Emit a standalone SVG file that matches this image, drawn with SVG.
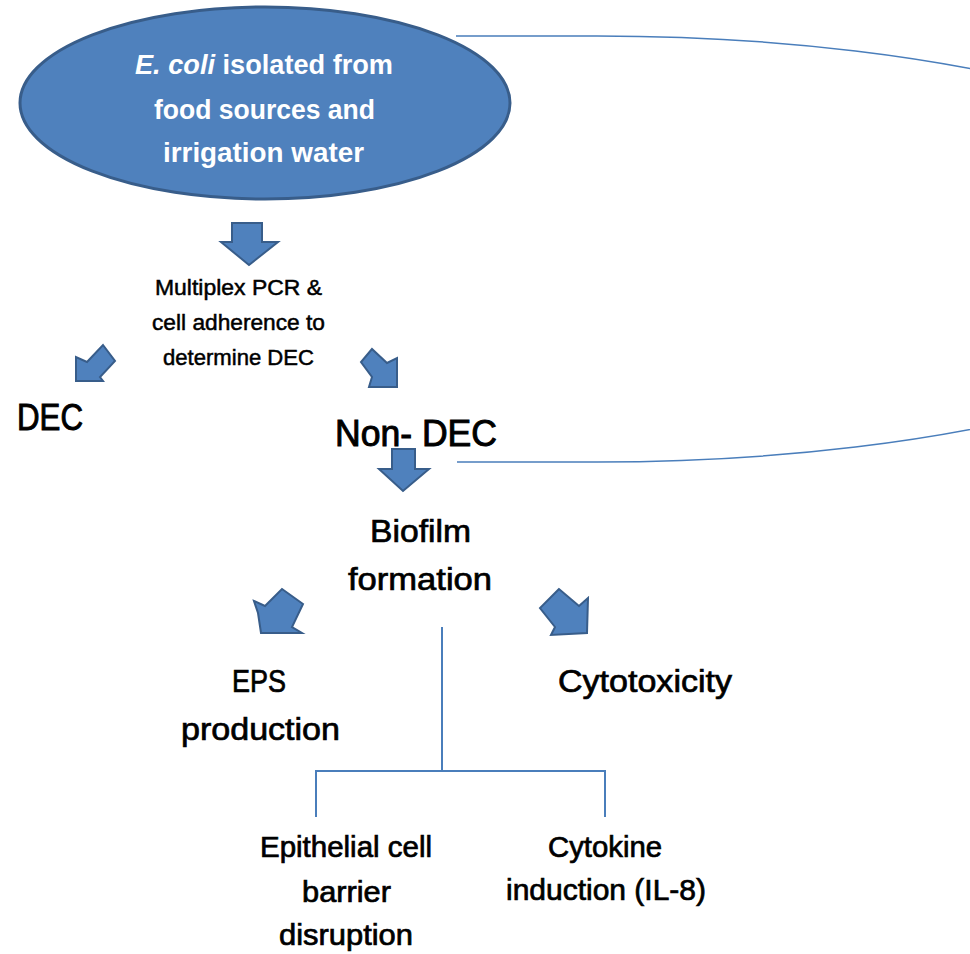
<svg xmlns="http://www.w3.org/2000/svg" width="970" height="954" viewBox="0 0 970 954">
<style>
.bg{fill:#ffffff}
.ell{fill:#4f81bd;stroke:#385d8a;stroke-width:3}
.arr{fill:#4f81bd;stroke:#385d8a;stroke-width:2;stroke-linejoin:miter}
.ln{fill:none;stroke:#4a7ebb;stroke-width:2}
.loop{fill:none;stroke:#4a7ebb;stroke-width:1.5}
.w{font-family:"Liberation Sans",Arial,sans-serif;font-weight:bold;fill:#ffffff;font-size:28px}
.t{font-family:"Liberation Sans",Arial,sans-serif;fill:#000000;stroke:#000000;stroke-width:0.7}
.s1{font-size:22.5px;stroke-width:0.5}
.s2{font-size:37px;stroke-width:1}
.s3{font-size:31.5px}
.s4{font-size:29px}
</style>
<rect class="bg" x="0" y="0" width="970" height="954"/>
<g id="connectors">
<path class="loop" d="M456,36 L597,36 A702,213 0 0 1 597,462 L457,462"/>
<polygon class="arr" points="232,223 262,223 262,242 278,242 249,265 221,242 232,242"/>
<polygon class="arr" points="103,345 115,361 100,377 103,381 76,381 76,357 87,362"/>
<polygon class="arr" points="372,349 361,362 372,377 369,387 397,387 397,358 387,363"/>
<polygon class="arr" points="392,449 415,449 415,469 429,469 403,491 379,469 392,469"/>
<polygon class="arr" points="254,601 265,606 282,589 303,604 292,627 302,633 261,633 258,613"/>
<polygon class="arr" points="559,589 540,608 555,627 551,635 587,633 588,598 579,606"/>
<path class="ln" d="M442,627 L442,771 M316,817 L316,771 L605,771 L605,817"/>
</g>
<g id="node-ecoli">
<ellipse class="ell" cx="265" cy="103" rx="245" ry="96"/>
<text class="w" x="135" y="74" textLength="258" lengthAdjust="spacingAndGlyphs"><tspan font-style="italic">E. coli</tspan> isolated from</text>
<text class="w" x="154" y="119" textLength="221" lengthAdjust="spacingAndGlyphs">food sources and</text>
<text class="w" x="163" y="162" textLength="201" lengthAdjust="spacingAndGlyphs">irrigation water</text>
</g>
<g id="node-multiplex">
<text class="t s1" x="155" y="295" textLength="167" lengthAdjust="spacingAndGlyphs">Multiplex PCR &amp;</text>
<text class="t s1" x="152" y="330" textLength="173" lengthAdjust="spacingAndGlyphs">cell adherence to</text>
<text class="t s1" x="163" y="365" textLength="151" lengthAdjust="spacingAndGlyphs">determine DEC</text>
</g>
<g id="node-dec">
<text class="t s2" x="17" y="430" textLength="66" lengthAdjust="spacingAndGlyphs">DEC</text>
</g>
<g id="node-nondec">
<text class="t s2" x="335" y="446" textLength="162" lengthAdjust="spacingAndGlyphs">Non- DEC</text>
</g>
<g id="node-biofilm">
<text class="t s3" x="370" y="542" textLength="101" lengthAdjust="spacingAndGlyphs">Biofilm</text>
<text class="t s3" x="348" y="590" textLength="144" lengthAdjust="spacingAndGlyphs">formation</text>
</g>
<g id="node-eps">
<text class="t s3" x="232" y="692" textLength="54" lengthAdjust="spacingAndGlyphs">EPS</text>
<text class="t s3" x="181" y="740" textLength="159" lengthAdjust="spacingAndGlyphs">production</text>
</g>
<g id="node-cytotoxicity">
<text class="t s3" x="558" y="692" textLength="174" lengthAdjust="spacingAndGlyphs">Cytotoxicity</text>
</g>
<g id="node-epithelial">
<text class="t s4" x="260" y="857" textLength="172" lengthAdjust="spacingAndGlyphs">Epithelial cell</text>
<text class="t s4" x="302" y="902" textLength="89" lengthAdjust="spacingAndGlyphs">barrier</text>
<text class="t s4" x="279" y="945" textLength="134" lengthAdjust="spacingAndGlyphs">disruption</text>
</g>
<g id="node-cytokine">
<text class="t s4" x="548" y="857" textLength="114" lengthAdjust="spacingAndGlyphs">Cytokine</text>
<text class="t s4" x="506" y="900" textLength="200" lengthAdjust="spacingAndGlyphs">induction (IL-8)</text>
</g>
</svg>
